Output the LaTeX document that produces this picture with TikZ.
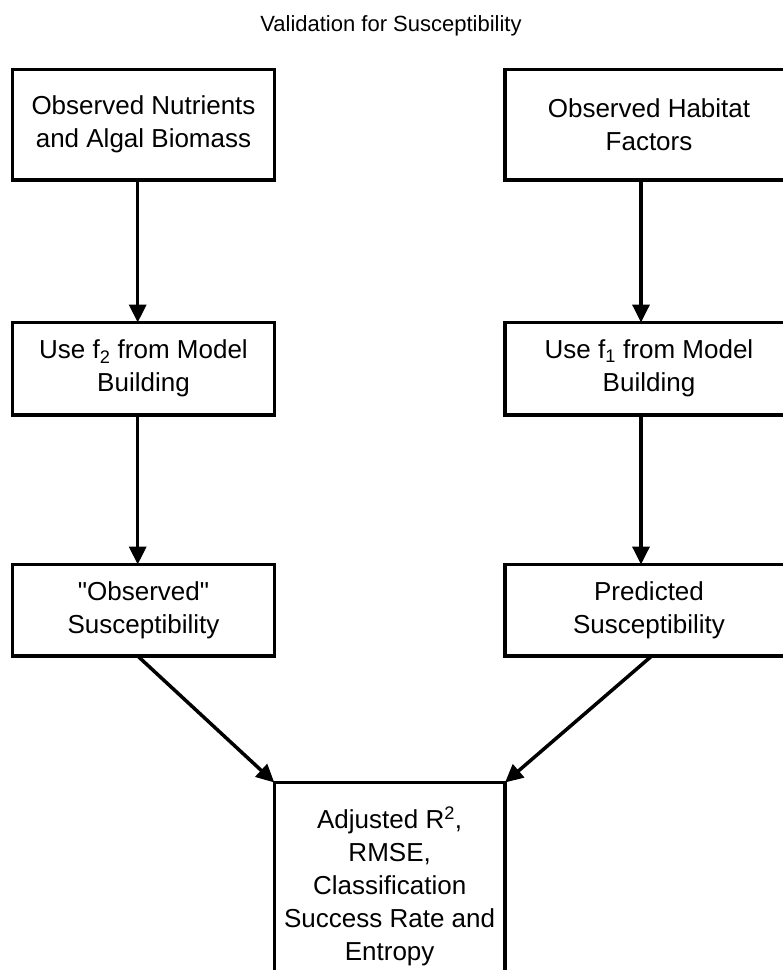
\documentclass[tikz,border=0pt]{standalone}
\usepackage{fontspec}
\setmainfont{Liberation Sans}[Ligatures=TeXOff]
\usetikzlibrary{arrows.meta, positioning}
\tikzset{
    stepbox/.style={rectangle, draw, line width=3.5pt, outer sep=0pt, align=center, font=\fontsize{26}{33}\selectfont},
    left box/.style={stepbox, minimum width=261.6pt},
    right box/.style={stepbox, minimum width=288pt},
    flow/.style={-{Triangle[length=18pt, width=17pt]}, line width=3.5pt}
}

\begin{document}
\begin{tikzpicture}[x=1pt, y=-1pt]
    \useasboundingbox (0,0) rectangle (783,970);
    \clip (0,0) rectangle (783,970);

    \node[font=\fontsize{22}{27}\selectfont, anchor=base] (title) at (391,31) {Validation for Susceptibility};

    \node[left box, minimum height=110.5pt, anchor=north west] (nutrients) at (12.7,69.5) {Observed Nutrients\\and Algal Biomass};
    \node[right box, minimum height=110.5pt, right=230.7pt of nutrients] (habitat) {Observed Habitat\\Factors};

    \node[left box, minimum height=92.5pt, below=142.5pt of nutrients] (usef2) {Use f\textsubscript{2} from Model\\Building};
    \node[right box, minimum height=92.5pt, below=142.5pt of habitat] (usef1) {Use f\textsubscript{1} from Model\\Building};

    \node[left box, minimum height=91.5pt, below=149.5pt of usef2] (observed) {"Observed"\\Susceptibility};
    \node[right box, minimum height=91.5pt, below=149.5pt of usef1] (predicted) {Predicted\\Susceptibility};

    \node[stepbox, minimum width=230.7pt, minimum height=207pt, below right=126.5pt and 0pt of observed.south east] (metrics) {Adjusted R\textsuperscript{2},\\RMSE,\\Classification\\Success Rate and\\Entropy};

    \draw[flow] ([xshift=-5.8pt]nutrients.south) -- ([xshift=-5.8pt]usef2.north);
    \draw[flow] ([xshift=-5.8pt]usef2.south) -- ([xshift=-5.8pt]observed.north);
    \draw[flow] ([xshift=-8pt]habitat.south) -- ([xshift=-8pt]usef1.north);
    \draw[flow] ([xshift=-8pt]usef1.south) -- ([xshift=-8pt]predicted.north);

    \draw[flow] ([xshift=-5.8pt]observed.south) -- (metrics.north west);
    \draw[flow] ([xshift=2.7pt]predicted.south) -- (metrics.north east);
\end{tikzpicture}
\end{document}
